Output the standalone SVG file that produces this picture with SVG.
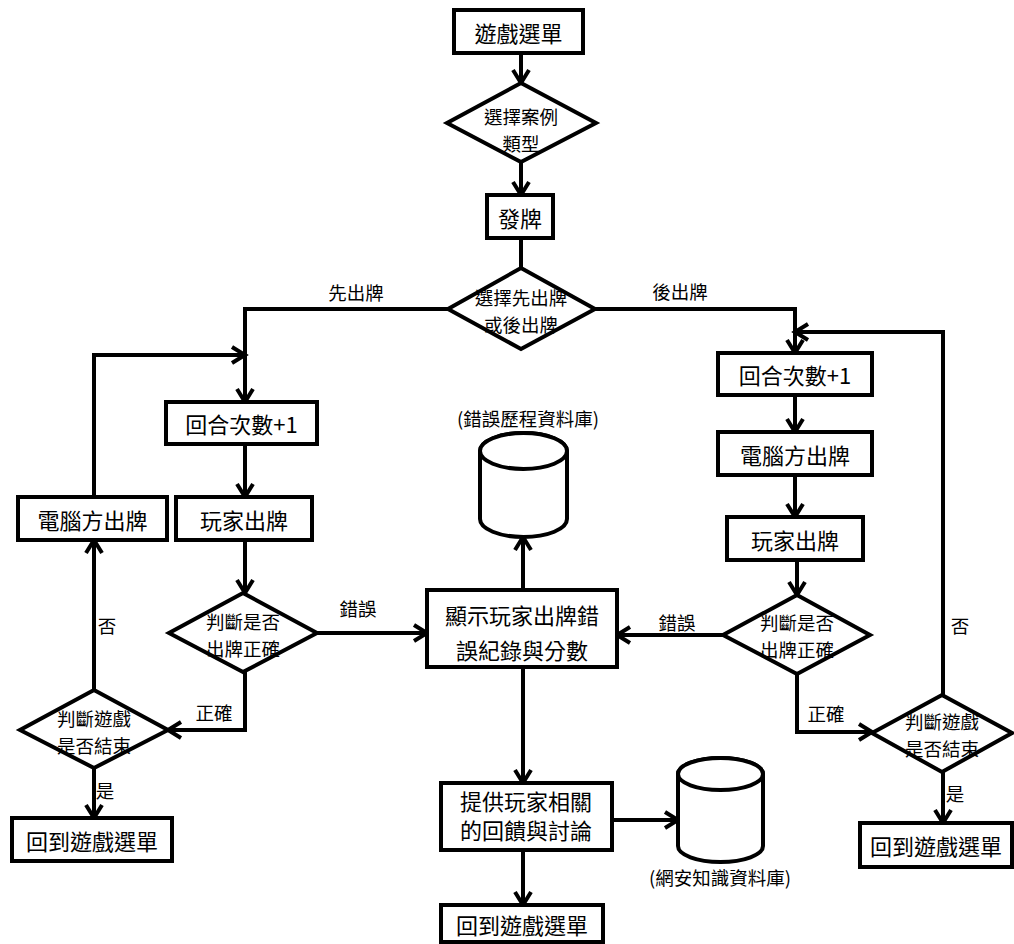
<svg xmlns="http://www.w3.org/2000/svg" width="1014" height="944" viewBox="0 0 1014 944">
<defs>
<marker id="ah" markerUnits="userSpaceOnUse" markerWidth="22" markerHeight="22" viewBox="0 0 22 22" refX="18" refY="11" orient="auto">
<path d="M5,3 L18,11 L5,19" fill="none" stroke="#000" stroke-width="4"/>
</marker>
</defs>
<style>
.b{fill:#fff;stroke:#000;stroke-width:4}
.c{fill:none;stroke:#000;stroke-width:4}
.t{font-family:"Noto Sans CJK TC","Noto Sans CJK SC",sans-serif;font-size:22px;fill:#000;text-anchor:middle;dominant-baseline:central}
.d{font-size:18.5px}
.l{font-size:18.5px}
</style>
<rect width="1014" height="944" fill="#fff"/>
<g id="connectors" class="c">
<path d="M521,53 V83" marker-end="url(#ah)"/>
<path d="M521,162 V195" marker-end="url(#ah)"/>
<path d="M521,238 V268"/>
<path d="M448,309 H245 V402" marker-end="url(#ah)"/>
<path d="M595,309 H795 V353" marker-end="url(#ah)"/>
<path d="M94,497 V355 H245" marker-end="url(#ah)"/>
<path d="M245,444 V497" marker-end="url(#ah)"/>
<path d="M245,540 V593" marker-end="url(#ah)"/>
<path d="M317,633 H427" marker-end="url(#ah)"/>
<path d="M245,672 V730 H168" marker-end="url(#ah)"/>
<path d="M94,690 V540" marker-end="url(#ah)"/>
<path d="M94,768 V818" marker-end="url(#ah)"/>
<path d="M523,590 V537" marker-end="url(#ah)"/>
<path d="M523,667 V783" marker-end="url(#ah)"/>
<path d="M612,820 H678" marker-end="url(#ah)"/>
<path d="M523,850 V905" marker-end="url(#ah)"/>
<path d="M795,395 V432" marker-end="url(#ah)"/>
<path d="M795,475 V517" marker-end="url(#ah)"/>
<path d="M797,560 V595" marker-end="url(#ah)"/>
<path d="M723,635 H617" marker-end="url(#ah)"/>
<path d="M797,674 V732 H872" marker-end="url(#ah)"/>
<path d="M943,695 V332 H795" marker-end="url(#ah)"/>
<path d="M943,772 V823" marker-end="url(#ah)"/>
</g>
<g id="labels">
<text class="t l" x="356" y="292">先出牌</text>
<text class="t l" x="680" y="291">後出牌</text>
<text class="t l" x="358" y="608">錯誤</text>
<text class="t l" x="214" y="712">正確</text>
<text class="t l" x="107" y="625">否</text>
<text class="t l" x="105" y="790">是</text>
<text class="t l" x="677" y="622">錯誤</text>
<text class="t l" x="826" y="713">正確</text>
<text class="t l" x="960" y="625">否</text>
<text class="t l" x="955" y="793">是</text>
</g>
<g id="menu"><rect class="b" x="454" y="10" width="129" height="43"/><text class="t" x="518.5" y="31.5">遊戲選單</text></g>
<g id="choose-type"><polygon class="b" points="521,83 596,123 521,162 447,123"/><text class="t d" x="521" y="116">選擇案例</text><text class="t d" x="521" y="143">類型</text></g>
<g id="deal"><rect class="b" x="487" y="195" width="66" height="43"/><text class="t" x="520" y="216.5">發牌</text></g>
<g id="choose-order"><polygon class="b" points="521,268 595,309 521,349 448,309"/><text class="t d" x="521" y="297">選擇先出牌</text><text class="t d" x="521" y="324">或後出牌</text></g>
<g id="l-round"><rect class="b" x="166" y="402" width="151" height="42"/><text class="t" x="241.5" y="423">回合次數+1</text></g>
<g id="l-player"><rect class="b" x="176" y="497" width="136" height="43"/><text class="t" x="244" y="518.5">玩家出牌</text></g>
<g id="l-computer"><rect class="b" x="18" y="497" width="149" height="43"/><text class="t" x="92.5" y="518.5">電腦方出牌</text></g>
<g id="l-check"><polygon class="b" points="243,593 317,633 243,672 169,633"/><text class="t d" x="243" y="621">判斷是否</text><text class="t d" x="243" y="648">出牌正確</text></g>
<g id="l-end"><polygon class="b" points="94,690 168,730 94,768 20,730"/><text class="t d" x="94" y="718">判斷遊戲</text><text class="t d" x="94" y="745">是否結束</text></g>
<g id="l-back"><rect class="b" x="12" y="818" width="160" height="43"/><text class="t" x="92" y="839.5">回到遊戲選單</text></g>
<g id="db-error"><path class="b" d="M480,451 V519 A43.5,18 0 0 0 567,519 V451 A43.5,18 0 0 0 480,451 Z"/><ellipse class="b" cx="523.5" cy="451" rx="43.5" ry="18"/><text class="t l" x="528" y="418">(錯誤歷程資料庫)</text></g>
<g id="show"><rect class="b" x="427" y="590" width="190" height="77"/><text class="t" x="522" y="614">顯示玩家出牌錯</text><text class="t" x="522" y="649">誤紀錄與分數</text></g>
<g id="feedback"><rect class="b" x="441" y="783" width="171" height="67"/><text class="t" x="526" y="800">提供玩家相關</text><text class="t" x="526" y="829">的回饋與討論</text></g>
<g id="db-know"><path class="b" d="M678,774 V846 A42.5,16 0 0 0 763,846 V774 A42.5,16 0 0 0 678,774 Z"/><ellipse class="b" cx="720.5" cy="774" rx="42.5" ry="16"/><text class="t l" x="720" y="877">(網安知識資料庫)</text></g>
<g id="c-back"><rect class="b" x="441" y="905" width="162" height="37"/><text class="t" x="522" y="924">回到遊戲選單</text></g>
<g id="r-round"><rect class="b" x="718" y="353" width="154" height="42"/><text class="t" x="795" y="374">回合次數+1</text></g>
<g id="r-computer"><rect class="b" x="718" y="432" width="154" height="43"/><text class="t" x="795" y="453.5">電腦方出牌</text></g>
<g id="r-player"><rect class="b" x="727" y="517" width="136" height="43"/><text class="t" x="795" y="538.5">玩家出牌</text></g>
<g id="r-check"><polygon class="b" points="797,595 870,635 797,674 723,635"/><text class="t d" x="797" y="622">判斷是否</text><text class="t d" x="797" y="649">出牌正確</text></g>
<g id="r-end"><polygon class="b" points="942,695 1012,733 942,772 872,733"/><text class="t d" x="942" y="721">判斷遊戲</text><text class="t d" x="942" y="748">是否結束</text></g>
<g id="r-back"><rect class="b" x="860" y="823" width="152" height="44"/><text class="t" x="936" y="845">回到遊戲選單</text></g>
</svg>
